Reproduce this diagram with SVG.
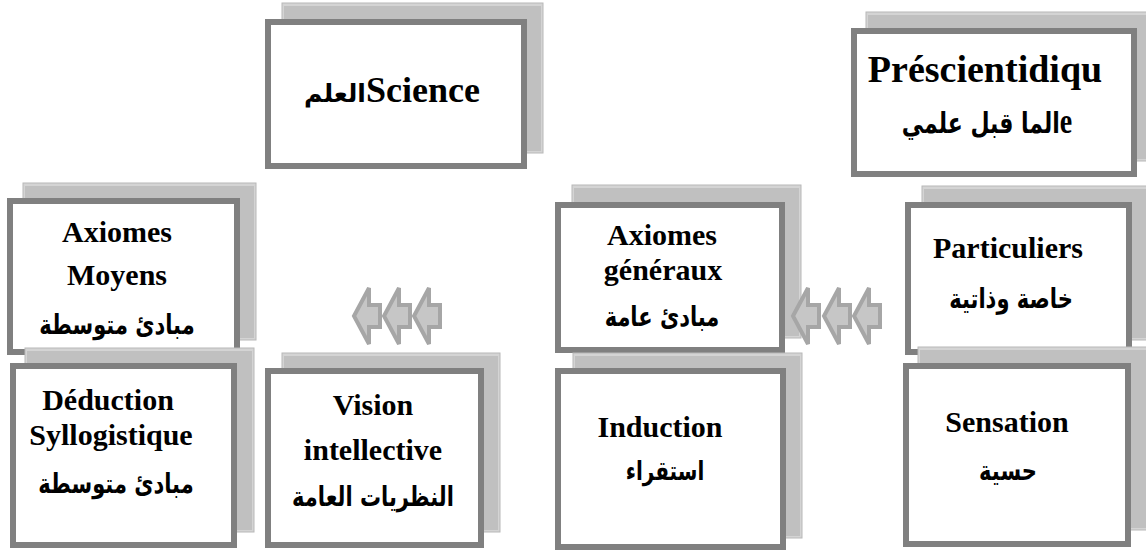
<svg xmlns="http://www.w3.org/2000/svg" width="1146" height="550" viewBox="0 0 1146 550">
  <style>
    .shadow-out { fill: #d4d4d4; stroke: #b8b8b8; stroke-width: 1; }
    .shadow-in { fill: #c0c0c0; stroke: none; }
    .box { fill: #ffffff; stroke: #808080; stroke-width: 6; }
    .lat { font-family: "Liberation Serif", "DejaVu Serif", serif; font-weight: bold; fill: #000; text-anchor: middle; }
    .ar { font-family: "DejaVu Sans", "Noto Sans", sans-serif; font-weight: bold; fill: #000; text-anchor: middle; }
    .arrow { fill: #c6c6c6; stroke: #a6a6a6; stroke-width: 4; stroke-linejoin: miter; }
  </style>
  <defs>
    <!-- block arrow pointing left, tip at origin -->
    <polygon id="leftArrow" class="arrow" points="2,0 17,-28 17,-11 28,-11 28,11 17,11 17,28"/>
  </defs>

  <rect width="1146" height="550" fill="#ffffff"/>

  <!-- upper row -->
  <g id="node-science">
    <rect class="shadow-out" x="282" y="3" width="261" height="150"/>
    <rect class="shadow-in" x="284" y="6" width="257" height="145"/>
    <rect class="box" x="268" y="22" width="256" height="144"/>
    <text class="lat" x="392" y="102" font-size="36" direction="rtl" unicode-bidi="embed">Science<tspan class="ar" font-size="25">العلم</tspan></text>
  </g>

  <g id="node-prescientifique">
    <rect class="shadow-out" x="866" y="12" width="290" height="149"/>
    <rect class="shadow-in" x="868" y="15" width="288" height="144"/>
    <rect class="box" x="854" y="31" width="280" height="143"/>
    <text class="lat" x="985" y="82" font-size="38">Préscientidiqu</text>
    <text class="ar" transform="translate(987,133) scale(1,1.3)" font-size="22" direction="rtl" unicode-bidi="embed"><tspan class="lat" font-size="28">e</tspan>الما قبل علمي</text>
  </g>

  <g id="node-axiomes-moyens">
    <rect class="shadow-out" x="23" y="183" width="233" height="157"/>
    <rect class="shadow-in" x="25" y="186" width="229" height="152"/>
    <rect class="box" x="10" y="201" width="227" height="151"/>
    <text class="lat" x="117" y="242" font-size="30">Axiomes</text>
    <text class="lat" x="117" y="285" font-size="30">Moyens</text>
    <text class="ar" transform="translate(117,334) scale(1,1.3)" font-size="21">مبادئ متوسطة</text>
  </g>

  <g id="node-axiomes-generaux">
    <rect class="shadow-out" x="572" y="185" width="229" height="153"/>
    <rect class="shadow-in" x="574" y="188" width="225" height="148"/>
    <rect class="box" x="558" y="205" width="224" height="145"/>
    <text class="lat" x="662" y="245" font-size="30">Axiomes</text>
    <text class="lat" x="663" y="280" font-size="30">généraux</text>
    <text class="ar" transform="translate(662,326) scale(1,1.3)" font-size="21">مبادئ عامة</text>
  </g>

  <g id="node-particuliers">
    <rect class="shadow-out" x="922" y="186" width="230" height="154"/>
    <rect class="shadow-in" x="924" y="189" width="228" height="149"/>
    <rect class="box" x="908" y="205" width="221" height="147"/>
    <text class="lat" x="1008" y="258" font-size="30">Particuliers</text>
    <text class="ar" transform="translate(1011,308) scale(1,1.3)" font-size="21">خاصة وذاتية</text>
  </g>

  <!-- lower row -->
  <g id="node-deduction">
    <rect class="shadow-out" x="25" y="348" width="229" height="184"/>
    <rect class="shadow-in" x="27" y="351" width="225" height="179"/>
    <rect class="box" x="13" y="366" width="221" height="179"/>
    <text class="lat" x="108" y="410" font-size="30">Déduction</text>
    <text class="lat" x="111" y="445" font-size="30">Syllogistique</text>
    <text class="ar" transform="translate(116,493) scale(1,1.3)" font-size="21">مبادئ متوسطة</text>
  </g>

  <g id="node-vision">
    <rect class="shadow-out" x="282" y="353" width="218" height="179"/>
    <rect class="shadow-in" x="284" y="356" width="214" height="174"/>
    <rect class="box" x="268" y="371" width="213" height="174"/>
    <text class="lat" x="373" y="415" font-size="30">Vision</text>
    <text class="lat" x="373" y="460" font-size="30">intellective</text>
    <text class="ar" transform="translate(373,506) scale(1,1.3)" font-size="21">النظريات العامة</text>
  </g>

  <g id="node-induction">
    <rect class="shadow-out" x="573" y="353" width="229" height="185"/>
    <rect class="shadow-in" x="575" y="356" width="225" height="180"/>
    <rect class="box" x="558" y="371" width="225" height="176"/>
    <text class="lat" x="660" y="437" font-size="30">Induction</text>
    <text class="ar" transform="translate(665,480) scale(1,1.3)" font-size="20">استقراء</text>
  </g>

  <g id="node-sensation">
    <rect class="shadow-out" x="918" y="347" width="232" height="183"/>
    <rect class="shadow-in" x="920" y="350" width="230" height="178"/>
    <rect class="box" x="906" y="366" width="222" height="178"/>
    <text class="lat" x="1007" y="432" font-size="30">Sensation</text>
    <text class="ar" transform="translate(1008,480) scale(1,1.3)" font-size="21">حسية</text>
  </g>

  <!-- connectors: chained block arrows -->
  <g id="connectors">
    <use href="#leftArrow" x="352" y="316"/>
    <use href="#leftArrow" x="382" y="316"/>
    <use href="#leftArrow" x="412" y="316"/>
    <use href="#leftArrow" x="791" y="316"/>
    <use href="#leftArrow" x="822" y="316"/>
    <use href="#leftArrow" x="852" y="316"/>
  </g>
</svg>
